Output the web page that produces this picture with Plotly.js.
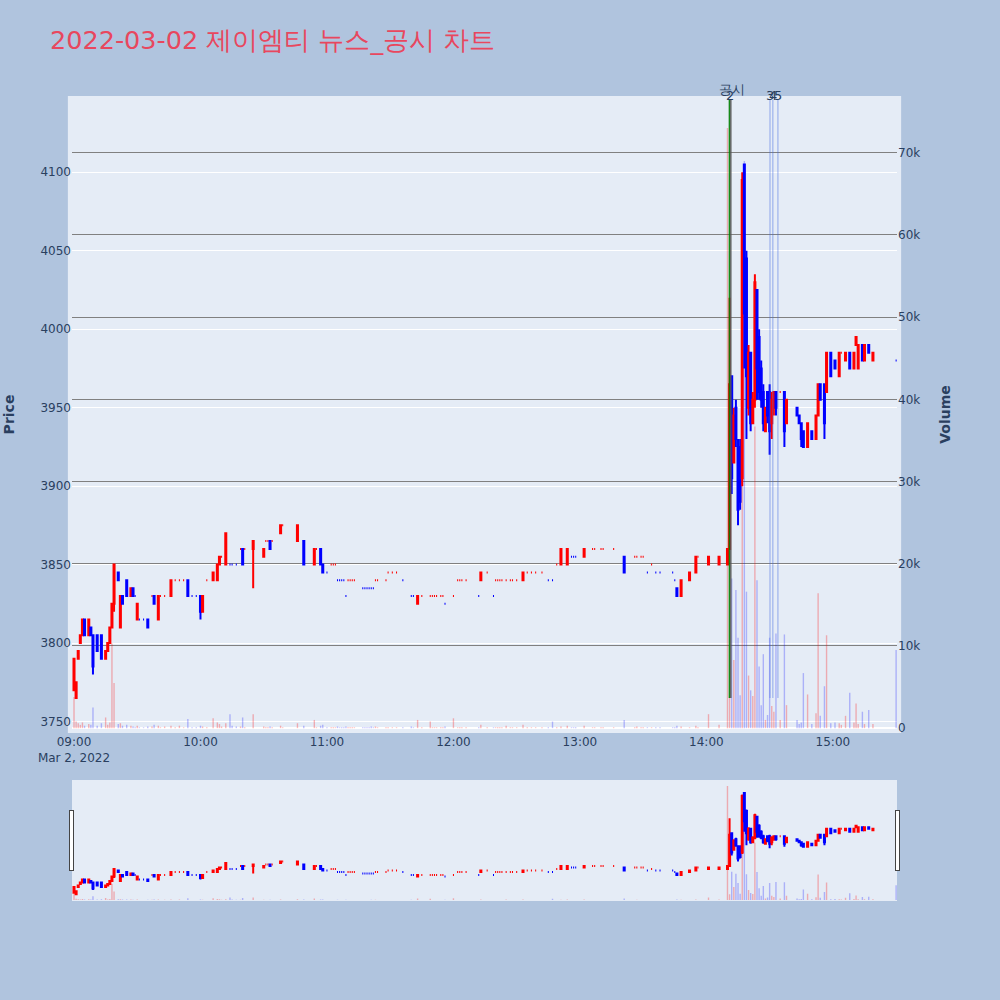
<!DOCTYPE html>
<html><head><meta charset="utf-8">
<script src="https://cdn.plot.ly/plotly-3.0.1.min.js"></script>
<style>html,body{margin:0;padding:0;background:#B0C4DE}</style>
</head><body>
<div id="chart" style="width:1000px;height:1000px"></div>
<script>
const day = '2022-03-02 ';
const times = [
'09:00','09:01','09:02','09:03','09:04','09:05','09:07','09:08','09:09','09:11',
'09:13','09:15','09:16','09:17','09:18','09:19','09:21','09:22','09:23','09:25',
'09:27','09:28','09:29','09:30','09:31','09:33','09:35','09:37','09:38','09:40',
'09:41','09:43','09:46','09:48','09:50','09:52','09:54','09:56','09:58','10:00',
'10:01','10:03','10:06','10:08','10:09','10:10','10:12','10:14','10:15','10:17',
'10:19','10:20','10:21','10:25','10:30','10:31','10:32','10:33','10:34','10:38',
'10:39','10:46','10:49','10:54','10:55','10:57','10:58','11:00','11:02','11:03',
'11:04','11:05','11:06','11:07','11:08','11:09','11:10','11:11','11:12','11:13',
'11:17','11:18','11:19','11:20','11:21','11:22','11:23','11:24','11:28','11:29',
'11:31','11:33','11:36','11:40','11:41','11:43','11:45','11:49','11:50','11:51',
'11:52','11:54','11:55','11:56','12:00','12:02','12:03','12:04','12:06','12:12',
'12:13','12:16','12:19','12:20','12:21','12:22','12:23','12:25','12:27','12:28',
'12:30','12:33','12:35','12:37','12:39','12:42','12:45','12:47','12:49','12:51',
'12:54','12:56','12:57','12:58','13:02','13:06','13:07','13:10','13:11','13:16',
'13:21','13:26','13:27','13:29','13:30','13:32','13:34','13:36','13:38','13:44',
'13:45','13:46','13:48','13:52','13:55','13:56','14:01','14:06','14:10','14:11',
'14:12','14:13','14:14','14:15','14:16','14:17','14:18','14:19','14:20','14:21',
'14:22','14:23','14:24','14:25','14:26','14:27','14:28','14:29','14:30','14:31',
'14:32','14:33','14:35','14:37','14:38','14:43','14:44','14:45','14:46','14:48',
'14:50','14:52','14:53','14:54','14:56','14:57','14:59','15:01','15:03','15:04',
'15:06','15:08','15:10','15:11','15:12','15:14','15:15','15:17','15:19','15:30'];

const opens = [
3770,3765,3790,3800,3805,3815,3805,3810,3805,3805,
3805,3790,3795,3800,3810,3825,3845,3810,3830,3840,
3830,3835,3830,3815,3815,3815,3815,3830,3830,3815,
3830,3830,3830,3840,3840,3840,3840,3830,3830,3830,
3820,3840,3840,3840,3850,3855,3850,3850,3850,3850,
3860,3860,3860,3860,3855,3865,3865,3865,3865,3870,
3875,3865,3865,3850,3860,3860,3850,3845,3850,3850,
3850,3840,3840,3840,3840,3830,3840,3840,3840,3840,
3835,3835,3835,3835,3835,3835,3840,3840,3840,3845,
3845,3845,3840,3830,3830,3825,3830,3830,3830,3830,
3830,3830,3830,3825,3830,3840,3840,3840,3840,3830,
3840,3845,3830,3840,3840,3840,3840,3840,3840,3840,
3840,3840,3845,3845,3845,3845,3840,3840,3850,3850,
3850,3855,3855,3855,3855,3860,3860,3860,3860,3860,
3855,3855,3855,3855,3855,3845,3850,3845,3845,3845,
3840,3835,3830,3840,3845,3855,3850,3850,3850,3860,
3970,3915,3950,3925,3925,3905,4105,4045,3950,3985,
3940,3955,4025,3995,3975,3960,3935,3960,3960,3940,
3950,3960,3960,3960,3940,3950,3945,3940,3935,3925,
3935,3930,3945,3965,3965,3960,3985,3980,3970,3985,
3980,3985,3975,3990,3975,3990,3980,3990,3980,3980];

const highs = [
3790,3775,3795,3805,3815,3815,3815,3810,3805,3805,
3805,3795,3800,3810,3825,3850,3845,3830,3830,3840,
3835,3835,3830,3825,3815,3815,3815,3830,3830,3830,
3830,3830,3840,3840,3840,3840,3840,3830,3830,3830,
3830,3840,3845,3850,3855,3855,3870,3850,3850,3850,
3860,3860,3860,3865,3860,3865,3865,3865,3865,3875,
3875,3875,3865,3860,3860,3860,3850,3845,3850,3850,
3850,3840,3840,3840,3840,3830,3840,3840,3840,3840,
3835,3835,3835,3835,3835,3835,3840,3840,3840,3845,
3845,3845,3840,3830,3830,3830,3830,3830,3830,3830,
3830,3830,3830,3825,3830,3840,3840,3840,3840,3830,
3845,3845,3830,3840,3840,3840,3840,3840,3840,3840,
3840,3845,3845,3845,3845,3845,3840,3840,3850,3860,
3860,3855,3855,3855,3860,3860,3860,3860,3860,3860,
3855,3855,3855,3855,3855,3845,3850,3845,3845,3845,
3840,3835,3840,3845,3855,3855,3855,3855,3860,4020,
3970,3950,3955,3930,3930,4100,4105,4050,3990,3985,
3960,4035,4025,4000,3980,3965,3950,3960,3965,3960,
3960,3960,3960,3960,3955,3950,3945,3940,3935,3940,
3935,3945,3965,3965,3965,3985,3985,3980,3985,3985,
3985,3985,3985,3995,3990,3990,3990,3990,3985,3980];

const lows = [
3770,3765,3790,3800,3805,3805,3805,3805,3780,3795,
3790,3790,3795,3800,3810,3820,3840,3810,3825,3830,
3830,3830,3830,3815,3815,3815,3810,3830,3825,3815,
3830,3830,3830,3840,3840,3840,3830,3830,3830,3815,
3820,3840,3840,3840,3850,3855,3850,3850,3850,3850,
3860,3850,3860,3835,3855,3865,3865,3860,3865,3870,
3875,3865,3850,3850,3860,3850,3845,3845,3850,3850,
3850,3840,3840,3840,3840,3830,3840,3840,3840,3840,
3835,3835,3835,3835,3835,3835,3840,3840,3840,3845,
3845,3845,3840,3830,3830,3825,3830,3830,3830,3830,
3830,3830,3830,3825,3830,3840,3840,3840,3840,3830,
3840,3845,3830,3840,3840,3840,3840,3840,3840,3840,
3840,3840,3845,3845,3845,3845,3840,3840,3850,3850,
3850,3855,3855,3855,3855,3860,3860,3860,3860,3860,
3845,3855,3855,3855,3855,3845,3850,3845,3845,3845,
3840,3830,3830,3840,3845,3855,3850,3850,3850,3860,
3895,3915,3925,3875,3885,3900,3975,3930,3945,3935,
3940,3950,3955,3955,3950,3935,3935,3940,3920,3930,
3945,3945,3960,3925,3940,3945,3940,3925,3925,3925,
3930,3930,3945,3955,3930,3960,3970,3975,3970,3985,
3980,3975,3975,3990,3975,3980,3980,3985,3980,3980];

const closes = [
3790,3775,3795,3805,3815,3805,3815,3805,3785,3795,
3790,3795,3800,3810,3825,3850,3840,3830,3825,3830,
3835,3830,3830,3825,3815,3815,3810,3830,3825,3830,
3830,3830,3840,3840,3840,3840,3830,3830,3830,3820,
3830,3840,3845,3850,3855,3855,3870,3850,3850,3850,
3860,3850,3860,3865,3860,3865,3865,3860,3865,3875,
3875,3875,3850,3860,3860,3850,3845,3845,3850,3850,
3850,3840,3840,3840,3840,3830,3840,3840,3840,3840,
3835,3835,3835,3835,3835,3835,3840,3840,3840,3845,
3845,3845,3840,3830,3830,3830,3830,3830,3830,3830,
3830,3830,3830,3825,3830,3840,3840,3840,3840,3830,
3845,3845,3830,3840,3840,3840,3840,3840,3840,3840,
3840,3845,3845,3845,3845,3845,3840,3840,3850,3860,
3860,3855,3855,3855,3860,3860,3860,3860,3860,3860,
3845,3855,3855,3855,3855,3845,3850,3845,3845,3845,
3840,3830,3840,3845,3855,3855,3855,3855,3860,3965,
3905,3945,3930,3885,3890,4095,4010,3970,3985,3940,
3955,4030,3975,3960,3955,3940,3950,3945,3935,3955,
3960,3950,3960,3935,3955,3945,3940,3930,3925,3940,
3930,3945,3965,3955,3940,3985,3970,3975,3985,3985,
3985,3975,3985,3995,3990,3980,3990,3985,3985,3980];

const volumes = [
3800,800,600,400,700,300,500,400,2500,300,
600,1300,400,700,10300,5500,500,600,300,400,
300,200,100,300,100,100,200,200,400,300,
100,200,300,100,300,100,1100,100,100,300,
200,100,1200,700,500,200,600,1700,300,200,
200,1300,100,1700,200,100,100,200,100,300,
100,600,300,1000,100,300,400,100,100,100,
100,200,100,100,100,200,100,100,100,100,
100,100,100,100,200,100,200,100,100,100,
100,100,100,200,100,1000,100,800,100,100,
100,100,100,200,1200,100,100,100,100,100,
400,100,100,100,100,100,100,300,100,100,
100,400,100,100,100,100,100,800,100,200,
300,100,100,100,300,100,100,100,100,100,
1000,100,200,100,100,100,100,100,100,100,
100,300,200,100,300,100,1700,400,73000,3800,
18200,8300,16800,11000,4000,58000,69000,16600,6400,4600,
3900,36700,18000,7500,2800,9000,1000,1600,11000,2700,
2000,11500,1000,11400,2800,1000,500,700,6700,4100,
500,1800,16400,1500,5100,11300,600,700,600,400,
1500,4300,700,3000,500,2000,500,2200,500,9500];

// news / disclosure markers
const lineTimes = ['14:10:55','14:11:35','14:30:10','14:31:30','14:33:55'];
const lineColors = ['green','#555555','royalblue','royalblue','royalblue'];
const labelTimes = ['14:12:00','14:11:25','14:30:10','14:31:30','14:33:55'];
const labelTexts = ['공시','2','3','4','5'];

const xs = times.map(t => day + t);

// volume colour follows candle direction
const volColors = [];
let prevC = null, prevUp = true;
for (let i = 0; i < closes.length; i++) {
  let up;
  if (closes[i] > opens[i]) up = true;
  else if (closes[i] < opens[i]) up = false;
  else if (prevC !== null && closes[i] !== prevC) up = closes[i] > prevC;
  else up = prevUp;
  volColors.push(up ? 'rgba(255,0,0,0.28)' : 'rgba(0,0,255,0.25)');
  prevC = closes[i]; prevUp = up;
}

const candle = {
  type: 'candlestick', x: xs, open: opens, high: highs, low: lows, close: closes,
  increasing: {line: {color: 'red'}, fillcolor: 'red'},
  decreasing: {line: {color: 'blue'}, fillcolor: 'blue'},
  name: 'Price', showlegend: false, yaxis: 'y'
};
const vol = {
  type: 'bar', x: xs, y: volumes, yaxis: 'y2', name: 'Volume',
  marker: {color: volColors, line: {width: 0}}, width: 40000, showlegend: false
};

const xRange = [day + '08:59:03', day + '15:30:25'];
const lineBottom = 3765, lineTop = 4146;

const shapes = [{
  type: 'rect', xref: 'paper', yref: 'paper', x0: -0.005, x1: 1.005, y0: 0, y1: 1,
  fillcolor: '#E5ECF6', line: {width: 0}, layer: 'below'
}];
lineTimes.forEach((t, i) => {
  shapes.push({
    type: 'line', xref: 'x', yref: 'y', x0: day + t, x1: day + t, y0: lineBottom, y1: lineTop,
    line: {color: lineColors[i], width: 1.5}, opacity: i < 2 ? 0.9 : 0.35
  });
});
const annotations = labelTimes.map((t, i) => ({
  x: day + t, xref: 'x', y: 1, yref: 'paper', text: labelTexts[i], showarrow: false,
  xanchor: 'center', yanchor: 'middle', yshift: i === 0 ? 7 : 1,
  font: {size: 13, color: '#2a3f5f'}
}));

const FONT = '"DejaVu Sans", Verdana, sans-serif';
const layout = {
  width: 1000, height: 1000,
  paper_bgcolor: '#B0C4DE', plot_bgcolor: '#E5ECF6',
  font: {family: FONT, color: '#2a3f5f', size: 12},
  margin: {l: 72, r: 103, t: 96, b: 100},
  showlegend: false,
  title: {text: '2022-03-02 제이엠티 뉴스_공시 차트', x: 0.05, xanchor: 'left',
          y: 0.96, yanchor: 'middle', yref: 'container',
          font: {family: FONT, size: 25.5, color: '#E8475E'}},
  xaxis: {type: 'date', range: xRange, showgrid: false, zeroline: false,
          rangeslider: {visible: true, range: xRange}},
  yaxis: {range: [3742.7, 4148.6], gridcolor: 'white', zeroline: false,
          title: {text: '<b>Price</b>', font: {size: 14}, standoff: 22}},
  yaxis2: {overlaying: 'y', side: 'right', range: [-590, 76900], gridcolor: 'grey',
           zeroline: true, zerolinecolor: 'white', zerolinewidth: 2,
           title: {text: '<b>Volume</b>', font: {size: 14}, standoff: 20}},
  shapes: shapes,
  annotations: annotations
};

Plotly.newPlot('chart', [candle, vol], layout, {displayModeBar: false});
</script>
</body></html>
